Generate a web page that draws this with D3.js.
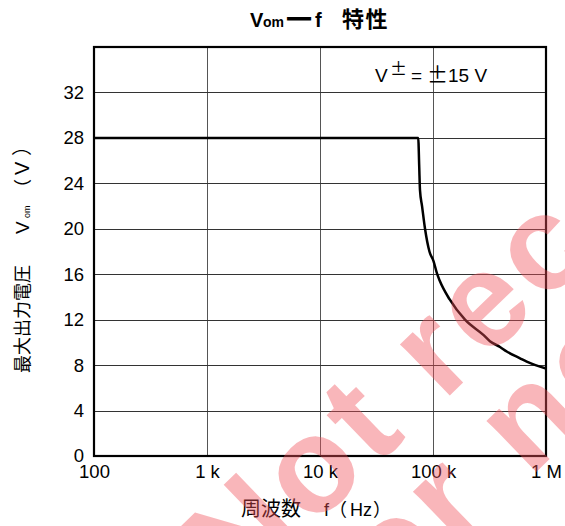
<!DOCTYPE html>
<html><head><meta charset="utf-8">
<script src="https://cdn.jsdelivr.net/npm/d3@7"></script>
<style>
html,body{margin:0;padding:0;background:#fff;}
text{font-family:"Liberation Sans",Arial,sans-serif;}
.cjk{font-family:"Noto Sans CJK JP",sans-serif;}
</style></head>
<body><svg id="c" width="565" height="526"></svg>
<script>
const freqs = [100, 74000, 75500, 76700, 80000, 85000, 93000, 100700, 109000, 115000, 140000, 192000, 279000, 319000, 392000, 449000, 589000, 675000, 1000000];
const vom   = [28, 28, 25.5, 23.4, 22, 20, 18, 17.2, 16, 15.4, 13.8, 12, 10.66, 10.1, 9.6, 9.2, 8.6, 8.3, 7.7];
const xTicks = [100, 1000, 10000, 100000, 1000000];
const xTickLabels = ["100", "1 k", "10 k", "100 k", "1 M"];
const yTicks = [0, 4, 8, 12, 16, 20, 24, 28, 32];
const yGrid = [4, 8, 12, 16, 20, 24, 28, 32];

const svg = d3.select("#c");
const L = 94, R = 546, T = 47, B = 456;
const x = d3.scaleLog().domain([100, 1e6]).range([L, R]);
const y = d3.scaleLinear().domain([0, 36]).range([B, T]);

// grid
svg.append("g").selectAll("line").data(xTicks.slice(1, -1)).join("line")
  .attr("x1", d => Math.round(x(d)) + 0.5).attr("x2", d => Math.round(x(d)) + 0.5)
  .attr("y1", T).attr("y2", B).attr("stroke", "#555").attr("stroke-width", 1);
svg.append("g").selectAll("line").data(yGrid).join("line")
  .attr("y1", d => Math.round(y(d)) + 0.5).attr("y2", d => Math.round(y(d)) + 0.5)
  .attr("x1", L).attr("x2", R).attr("stroke", "#333").attr("stroke-width", 1);

// curve
const pts = freqs.map((f, i) => [f, vom[i]]);
svg.append("path").datum(pts)
  .attr("d", d3.line().x(d => x(d[0])).y(d => y(d[1])).curve(d3.curveMonotoneX))
  .attr("fill", "none").attr("stroke", "#000").attr("stroke-width", 2.5).attr("stroke-linejoin", "round");

// frame
svg.append("rect").attr("x", L).attr("y", T).attr("width", R - L).attr("height", B - T)
  .attr("fill", "none").attr("stroke", "#000").attr("stroke-width", 2.2);

// axes
const ya = svg.append("g").attr("transform", `translate(${L},0)`)
  .call(d3.axisLeft(y).tickValues(yTicks).tickSize(0).tickPadding(10));
ya.select(".domain").remove();
ya.selectAll("text").attr("font-size", 18.5).attr("fill", "#000").attr("font-family", "Liberation Sans, Arial, sans-serif");

const xa = svg.append("g").attr("transform", `translate(0,${B})`)
  .call(d3.axisBottom(x).tickValues(xTicks).tickFormat((d, i) => xTickLabels[i]).tickSize(0).tickPadding(9));
xa.select(".domain").remove();
xa.selectAll("text").attr("font-size", 18.5).attr("fill", "#000").attr("font-family", "Liberation Sans, Arial, sans-serif");

// title
const title = svg.append("text").attr("y", 27).attr("font-weight", "bold").attr("font-size", 20);
title.append("tspan").attr("x", 250).text("V");
title.append("tspan").attr("x", 263).attr("font-size", 14).text("om");
title.append("tspan").attr("x", 286).attr("class", "cjk").attr("font-size", 26).attr("dy", 2).text("一");
title.append("tspan").attr("x", 315).attr("dy", -2).text("f");
title.append("tspan").attr("x", 342).attr("class", "cjk").attr("font-size", 22).attr("letter-spacing", 1.5).text("特性");

// condition label
const cond = svg.append("text").attr("y", 82).attr("font-size", 19);
cond.append("tspan").attr("x", 375).text("V");
cond.append("tspan").attr("x", 390).attr("class", "cjk").attr("font-size", 17).attr("dy", -7).text("±");
cond.append("tspan").attr("x", 411).attr("dy", 7).text("=");
cond.append("tspan").attr("x", 427).attr("class", "cjk").attr("font-size", 21).text("±");
cond.append("tspan").attr("x", 448).text("15 V");

// y label
const yl = svg.append("text").attr("transform", "translate(29,373) rotate(-90)").attr("font-size", 18);
yl.append("tspan").attr("class", "cjk").text("最大出力電圧");
yl.append("tspan").attr("x", 139).attr("font-size", 19).text("V");
yl.append("tspan").attr("x", 155).attr("font-size", 9).attr("dy", 1).text("om");
yl.append("tspan").attr("x", 176).attr("dy", -1).attr("class", "cjk").text("（");
yl.append("tspan").attr("x", 198).attr("font-size", 20).text("V");
yl.append("tspan").attr("x", 217).attr("class", "cjk").attr("font-size", 20).text("）");

// x label
const xl = svg.append("text").attr("y", 516).attr("font-size", 18);
xl.append("tspan").attr("x", 241).attr("class", "cjk").attr("font-size", 20).text("周波数");
xl.append("tspan").attr("x", 324).text("f");
xl.append("tspan").attr("x", 329).attr("class", "cjk").text("（");
xl.append("tspan").attr("x", 350).text("Hz");
xl.append("tspan").attr("x", 373).attr("class", "cjk").text("）");

// watermark
const wm = svg.append("g").attr("transform", "translate(237,601) rotate(-44)")
  .attr("fill", "#f0505a").attr("fill-opacity", 0.42).attr("font-weight", "bold").attr("font-size", 135)
  .attr("letter-spacing", 6).attr("font-family", "Liberation Sans, Arial, sans-serif");
wm.append("text").attr("x", 0).attr("y", 0).text("Not recommended");
wm.append("text").attr("x", 54).attr("y", 115).text("for new design");
</script></body></html>
